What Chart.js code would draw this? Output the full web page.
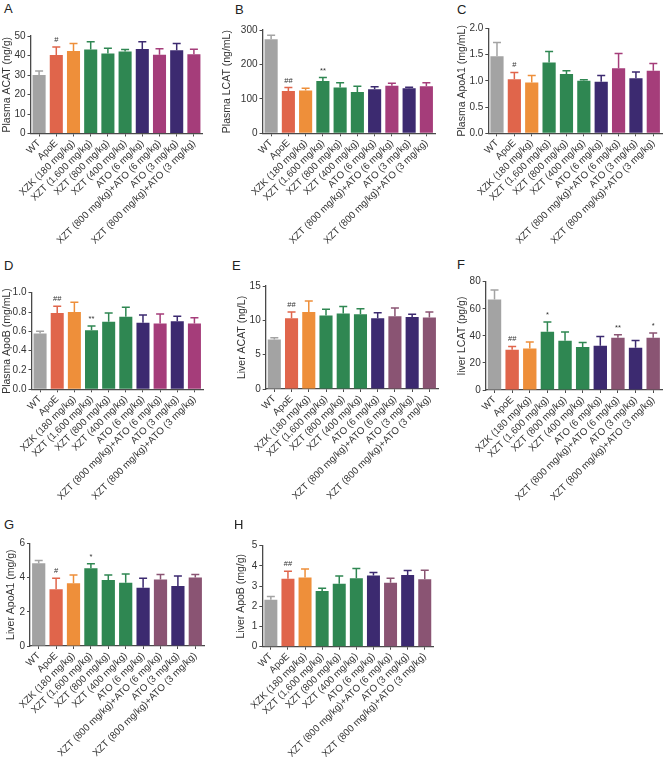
<!DOCTYPE html>
<html>
<head>
<meta charset="utf-8">
<script src="https://cdn.jsdelivr.net/npm/chart.js@4/dist/chart.umd.min.js"></script>
<style>
  html, body { margin: 0; padding: 0; background: #ffffff; }
  body { width: 671px; height: 757px; position: relative; overflow: hidden; font-family: "Liberation Sans", Arial, sans-serif; }
  canvas { position: absolute; }
  .lbl { position: absolute; font-size: 13px; line-height: 13px; color: #222; font-family: "Liberation Sans", Arial, sans-serif; }
</style>
</head>
<body>
<script>
// ---------- DATA ----------
const categories = ["WT", "ApoE", "XZK (180 mg/kg)", "XZT (1,600 mg/kg)", "XZT (800 mg/kg)",
  "XZT (400 mg/kg)", "ATO (6 mg/kg)", "XZT (800 mg/kg)+ATO (6 mg/kg)", "ATO (3 mg/kg)",
  "XZT (800 mg/kg)+ATO (3 mg/kg)"];

const plasmaACAT = [30.0, 40.3, 42.3, 43.1, 41.0, 42.0, 43.3, 40.4, 42.7, 40.7];
const plasmaACATErr = [2.0, 4.1, 3.8, 3.9, 2.7, 1.1, 3.7, 3.1, 3.4, 2.5];
const plasmaACATSig = ["", "#", "", "", "", "", "", "", "", ""];
const plasmaACATTicks = [0, 10, 20, 30, 40, 50];

const plasmaLCAT = [273, 123, 124, 152, 133, 120, 128, 138, 131, 137];
const plasmaLCATErr = [12, 10, 7, 10, 14, 17, 7, 7, 3, 10];
const plasmaLCATSig = ["", "##", "", "**", "", "", "", "", "", ""];
const plasmaLCATTicks = [0, 100, 200, 300];

const plasmaApoA1 = [1.47, 1.03, 0.97, 1.35, 1.13, 1.00, 0.98, 1.24, 1.05, 1.19];
const plasmaApoA1Err = [0.26, 0.13, 0.13, 0.21, 0.06, 0.02, 0.12, 0.28, 0.12, 0.14];
const plasmaApoA1Sig = ["", "#", "", "", "", "", "", "", "", ""];
const plasmaApoA1Ticks = [0.0, 0.5, 1.0, 1.5, 2.0];

const plasmaApoB = [0.577, 0.79, 0.80, 0.61, 0.70, 0.75, 0.69, 0.68, 0.705, 0.68];
const plasmaApoBErr = [0.023, 0.07, 0.10, 0.046, 0.09, 0.10, 0.08, 0.10, 0.051, 0.06];
const plasmaApoBSig = ["", "##", "", "**", "", "", "", "", "", ""];
const plasmaApoBTicks = [0.0, 0.2, 0.4, 0.6, 0.8, 1.0];

const liverACAT = [7.2, 10.3, 11.2, 10.7, 11.0, 10.9, 10.3, 10.6, 10.5, 10.4];
const liverACATErr = [0.25, 0.9, 1.6, 0.9, 1.0, 0.8, 0.8, 1.2, 0.4, 0.8];
const liverACATSig = ["", "##", "", "", "", "", "", "", "", ""];
const liverACATTicks = [0, 5, 10, 15];

const liverLCAT = [66.8, 29.7, 30.7, 43.0, 36.4, 31.7, 32.7, 38.6, 31.2, 38.6];
const liverLCATErr = [7.0, 2.5, 4.7, 7.2, 6.4, 3.4, 6.9, 2.2, 5.4, 3.5];
const liverLCATSig = ["", "##", "", "*", "", "", "", "**", "", "*"];
const liverLCATTicks = [0, 20, 40, 60, 80];

const liverApoA1 = [4.83, 3.31, 3.66, 4.54, 3.86, 3.70, 3.41, 3.88, 3.51, 4.00];
const liverApoA1Err = [0.17, 0.65, 0.49, 0.26, 0.29, 0.51, 0.55, 0.29, 0.58, 0.17];
const liverApoA1Sig = ["", "#", "", "*", "", "", "", "", "", ""];
const liverApoA1Ticks = [0, 2, 4, 6];

const liverApoB = [2.33, 3.37, 3.42, 2.76, 3.12, 3.39, 3.52, 3.16, 3.55, 3.34];
const liverApoBErr = [0.16, 0.37, 0.43, 0.13, 0.38, 0.48, 0.15, 0.23, 0.22, 0.45];
const liverApoBSig = ["", "##", "", "", "", "", "", "", "", ""];
const liverApoBTicks = [0, 1, 2, 3, 4, 5];

// ---------- STYLE ----------
const GRAY = "#a3a3a3", RED = "#e0654b", ORANGE = "#ee8f3a", GREEN = "#2f8752",
      NAVY = "#3c2a70", MAGENTA = "#a53d7a", MAUVE = "#8a5473";
const colorsPlasma = [GRAY, RED, ORANGE, GREEN, GREEN, GREEN, NAVY, MAGENTA, NAVY, MAGENTA];
const colorsLiver = [GRAY, RED, ORANGE, GREEN, GREEN, GREEN, NAVY, MAUVE, NAVY, MAUVE];
const FONT = "'Liberation Sans', Arial, sans-serif";
const AXIS = "#4a4a4a";

const panels = [
  { letter: "A", lx: 4, ly: 2, title: "Plasma ACAT (ng/g)", vals: plasmaACAT, err: plasmaACATErr, sig: plasmaACATSig, ticks: plasmaACATTicks, dec: 0, colors: colorsPlasma,
    cv: [0, 0, 212, 250], area: [30.5, 36, 202.5, 133.5] },
  { letter: "B", lx: 235, ly: 3, title: "Plasma LCAT (ng/mL)", vals: plasmaLCAT, err: plasmaLCATErr, sig: plasmaLCATSig, ticks: plasmaLCATTicks, dec: 0, colors: colorsPlasma,
    cv: [220, 0, 222, 250], area: [262.5, 30, 435, 133.3] },
  { letter: "C", lx: 457, ly: 3, title: "Plasma ApoA1 (mg/mL)", vals: plasmaApoA1, err: plasmaApoA1Err, sig: plasmaApoA1Sig, ticks: plasmaApoA1Ticks, dec: 1, colors: colorsPlasma,
    cv: [455, 0, 216, 250], area: [488.3, 28.3, 662, 133.3] },
  { letter: "D", lx: 4, ly: 259, title: "Plasma ApoB (mg/mL)", vals: plasmaApoB, err: plasmaApoBErr, sig: plasmaApoBSig, ticks: plasmaApoBTicks, dec: 1, colors: colorsPlasma,
    cv: [0, 250, 212, 260], area: [31.5, 292.7, 203, 389.3] },
  { letter: "E", lx: 232, ly: 259, title: "Liver ACAT (ng/L)", vals: liverACAT, err: liverACATErr, sig: liverACATSig, ticks: liverACATTicks, dec: 0, colors: colorsLiver,
    cv: [235, 250, 210, 260], area: [265.7, 286, 438, 389] },
  { letter: "F", lx: 457, ly: 258, title: "liver LCAT (pg/g)", vals: liverLCAT, err: liverLCATErr, sig: liverLCATSig, ticks: liverLCATTicks, dec: 0, colors: colorsLiver,
    cv: [455, 250, 216, 260], area: [485.7, 281.7, 662, 390] },
  { letter: "G", lx: 4, ly: 518, title: "Liver ApoA1 (mg/g)", vals: liverApoA1, err: liverApoA1Err, sig: liverApoA1Sig, ticks: liverApoA1Ticks, dec: 0, colors: colorsLiver,
    cv: [4, 505, 210, 252], area: [30, 543.3, 204, 646] },
  { letter: "H", lx: 234, ly: 518, title: "Liver ApoB (mg/g)", vals: liverApoB, err: liverApoBErr, sig: liverApoBSig, ticks: liverApoBTicks, dec: 0, colors: colorsLiver,
    cv: [234, 505, 210, 252], area: [262.3, 545.7, 433.3, 646.7] }
];

const errPlugin = {
  id: "errbars",
  afterDatasetsDraw(chart, args, opts) {
    const ctx = chart.ctx;
    const meta = chart.getDatasetMeta(0);
    const ys = chart.scales.y;
    const ds = chart.data.datasets[0];
    meta.data.forEach((bar, i) => {
      const v = ds.data[i], e = opts.err[i];
      const x = bar.x;
      const yTop = ys.getPixelForValue(v + e);
      const col = ds.backgroundColor[i];
      ctx.save();
      ctx.strokeStyle = col;
      ctx.lineWidth = 1.5;
      ctx.beginPath();
      ctx.moveTo(x, bar.y);
      ctx.lineTo(x, yTop);
      ctx.moveTo(x - 4, yTop);
      ctx.lineTo(x + 4, yTop);
      ctx.stroke();
      const s = opts.sig[i];
      if (s) {
        ctx.fillStyle = "#333";
        ctx.font = "7.5px " + FONT;
        ctx.textAlign = "center";
        ctx.textBaseline = "alphabetic";
        ctx.fillText(s, x, yTop - 5);
      }
      ctx.restore();
    });
  }
};

panels.forEach(p => {
  const [cx, cy, cw, ch] = p.cv;
  const [L, T, R, B] = p.area;
  const lab = document.createElement("div");
  lab.className = "lbl";
  lab.style.left = p.lx + "px";
  lab.style.top = p.ly + "px";
  lab.textContent = p.letter;
  document.body.appendChild(lab);

  const c = document.createElement("canvas");
  c.width = cw; c.height = ch;
  c.style.left = cx + "px"; c.style.top = cy + "px";
  c.style.width = cw + "px"; c.style.height = ch + "px";
  document.body.appendChild(c);

  const yW = L - cx, xH = cy + ch - B;
  new Chart(c.getContext("2d"), {
    type: "bar",
    data: {
      labels: categories,
      datasets: [{ data: p.vals, backgroundColor: p.colors, borderWidth: 0,
        barPercentage: 0.76, categoryPercentage: 1.0 }]
    },
    options: {
      responsive: false,
      animation: false,
      devicePixelRatio: 1,
      layout: { padding: { left: 0, top: T - cy, right: cx + cw - R, bottom: 0 } },
      plugins: {
        legend: { display: false },
        tooltip: { enabled: false },
        errbars: { err: p.err, sig: p.sig }
      },
      scales: {
        x: {
          offset: true,
          grid: { display: true, offset: false, drawOnChartArea: false, tickLength: 3, color: AXIS, lineWidth: 1 },
          border: { display: true, color: AXIS, width: 1.3 },
          ticks: { autoSkip: false, maxRotation: 45, minRotation: 45, padding: 1,
            color: "#333", font: { family: FONT, size: 9.8 } },
          afterFit: s => { s.height = xH; }
        },
        y: {
          min: p.ticks[0],
          max: p.ticks[p.ticks.length - 1],
          afterBuildTicks: s => { s.ticks = p.ticks.map(v => ({ value: v })); },
          grid: { display: true, drawOnChartArea: false, tickLength: 3, color: AXIS, lineWidth: 1 },
          border: { display: true, color: AXIS, width: 1.3 },
          ticks: { autoSkip: false, padding: 2, color: "#333", font: { family: FONT, size: 10 },
            callback: v => Number(v).toFixed(p.dec) },
          title: { display: true, text: p.title, color: "#333", padding: { top: 1, bottom: 0 },
            font: { family: FONT, size: 10.5 } },
          afterFit: s => { s.width = yW; }
        }
      }
    },
    plugins: [errPlugin]
  });
});
</script>
</body>
</html>
